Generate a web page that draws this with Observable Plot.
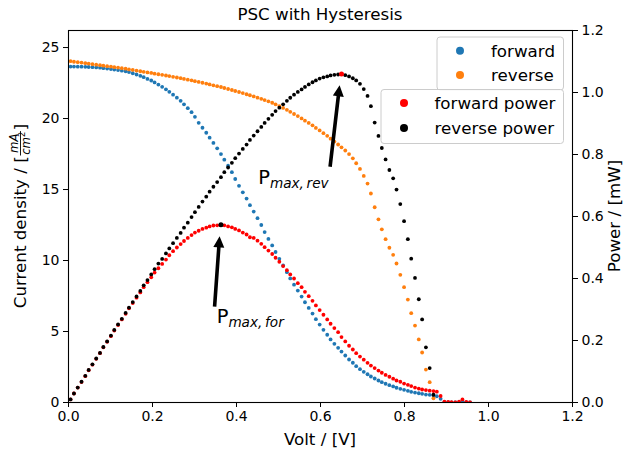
<!DOCTYPE html>
<html><head><meta charset="utf-8">
<script src="https://cdn.jsdelivr.net/npm/d3@7"></script>
<script src="https://cdn.jsdelivr.net/npm/@observablehq/plot@0.6"></script>
<style>
html,body{margin:0;padding:0;background:#fff;}
#chart{width:623px;height:452px;overflow:hidden;}
svg text{font-family:"DejaVu Sans",sans-serif;}
</style></head><body><div id="chart"></div>
<script>
const chartTitle = "PSC with Hysteresis";
const xLabel = "Volt / [V]";
const powerLabel = "Power / [mW]";
const seriesNames = ["forward", "reverse", "forward power", "reverse power"];
const seriesColors = ["#1f77b4", "#ff7f0e", "#ff0000", "#000000"];
const xTicks = [0, 0.2, 0.4, 0.6, 0.8, 1.0, 1.2];
const currentTicks = [0, 5, 10, 15, 20, 25];
const powerTicks = [0, 0.2, 0.4, 0.6, 0.8, 1.0, 1.2];
const currentMax = 26.2;
const powerMax = 1.2;

const voltage = [0.005,0.013,0.022,0.031,0.040,0.048,0.057,0.066,0.075,0.083,
0.092,0.101,0.109,0.118,0.127,0.136,0.144,0.153,0.162,0.171,
0.179,0.188,0.197,0.205,0.214,0.223,0.232,0.240,0.249,0.258,
0.267,0.275,0.284,0.293,0.301,0.310,0.319,0.328,0.336,0.345,
0.354,0.363,0.371,0.380,0.389,0.397,0.406,0.415,0.424,0.432,
0.441,0.450,0.459,0.467,0.476,0.485,0.493,0.502,0.511,0.520,
0.528,0.537,0.546,0.555,0.563,0.572,0.581,0.589,0.598,0.607,
0.616,0.624,0.633,0.642,0.650,0.659,0.668,0.677,0.685,0.694,
0.703,0.712,0.720,0.729,0.738,0.746,0.755,0.764,0.773,0.781,
0.790,0.799,0.808,0.816,0.825,0.834,0.842,0.851,0.860,0.869,
0.877,0.886,0.895,0.904,0.912,0.921,0.930,0.938,0.947,0.956];

const forwardCurrent = [23.66,23.66,23.65,23.65,23.64,23.63,23.62,23.60,23.58,23.55,
23.52,23.49,23.45,23.41,23.37,23.33,23.27,23.19,23.10,23.01,
22.91,22.79,22.68,22.54,22.39,22.23,22.06,21.88,21.68,21.47,
21.25,21.00,20.73,20.45,20.12,19.70,19.35,19.00,18.65,18.28,
17.90,17.50,17.10,16.68,16.22,15.74,15.26,14.80,14.36,13.90,
13.45,12.98,12.50,12.00,11.52,11.06,10.60,10.12,9.65,9.18,
8.74,8.30,7.88,7.46,7.06,6.66,6.26,5.87,5.49,5.12,
4.77,4.44,4.13,3.85,3.59,3.31,3.03,2.80,2.56,2.35,
2.16,1.99,1.83,1.69,1.55,1.43,1.32,1.22,1.13,1.04,
0.96,0.89,0.82,0.75,0.70,0.65,0.61,0.56,0.54,0.49,
0.44,0.26,0.03,0.02,0.01,0.00,0.03,0.09,0.02,0.00];

const reverseCurrent = [24.04,24.00,23.97,23.94,23.90,23.87,23.83,23.79,23.76,23.72,
23.69,23.66,23.62,23.59,23.55,23.51,23.46,23.42,23.38,23.33,
23.29,23.25,23.21,23.16,23.12,23.08,23.03,22.99,22.94,22.89,
22.84,22.79,22.74,22.69,22.63,22.58,22.52,22.46,22.40,22.34,
22.28,22.22,22.15,22.08,22.01,21.94,21.87,21.79,21.71,21.64,
21.56,21.47,21.39,21.30,21.21,21.11,21.00,20.88,20.75,20.61,
20.47,20.32,20.17,20.01,19.85,19.69,19.52,19.34,19.16,18.97,
18.78,18.58,18.38,18.17,17.97,17.75,17.50,17.20,16.85,16.45,
15.96,15.42,14.72,13.75,12.90,12.20,11.50,10.90,10.40,9.79,
8.99,8.12,7.25,6.29,5.42,4.44,3.52,2.32,1.43,0.30];

const forwardPower = [0.010,0.029,0.048,0.066,0.085,0.104,0.122,0.141,0.159,0.178,
0.196,0.214,0.232,0.250,0.268,0.286,0.304,0.321,0.338,0.355,
0.372,0.388,0.404,0.419,0.433,0.447,0.461,0.475,0.488,0.500,
0.511,0.521,0.531,0.540,0.548,0.554,0.560,0.564,0.568,0.571,
0.5715,0.573,0.5715,0.568,0.565,0.560,0.555,0.548,0.542,0.533,
0.531,0.522,0.512,0.501,0.490,0.479,0.467,0.454,0.440,0.427,
0.413,0.400,0.385,0.372,0.357,0.343,0.328,0.313,0.298,0.283,
0.268,0.254,0.240,0.227,0.211,0.197,0.183,0.171,0.159,0.148,
0.138,0.128,0.119,0.111,0.103,0.096,0.089,0.083,0.077,0.071,
0.067,0.061,0.057,0.053,0.048,0.045,0.042,0.040,0.038,0.037,
0.035,0.021,0.003,0.002,0.001,0.000,0.003,0.010,0.002,0.000];

const reversePower = [0.010,0.029,0.048,0.067,0.086,0.105,0.123,0.142,0.160,0.179,
0.197,0.216,0.234,0.252,0.270,0.289,0.306,0.324,0.342,0.360,
0.378,0.395,0.413,0.430,0.448,0.463,0.481,0.497,0.514,0.531,
0.547,0.564,0.580,0.598,0.614,0.631,0.648,0.664,0.680,0.696,
0.711,0.727,0.743,0.758,0.773,0.788,0.803,0.818,0.832,0.847,
0.861,0.875,0.889,0.902,0.915,0.928,0.940,0.951,0.962,0.973,
0.983,0.993,1.002,1.010,1.018,1.026,1.033,1.039,1.045,1.049,
1.052,1.055,1.057,1.058,1.060,1.056,1.052,1.046,1.039,1.028,
1.011,0.989,0.956,0.903,0.860,0.821,0.784,0.750,0.723,0.687,
0.640,0.585,0.527,0.464,0.402,0.333,0.268,0.178,0.111,0.025];

// annotation arrow tails and label anchors (data coords: volt, power)
const annotationNames = ["for", "rev"];
const arrowTailVolt = [0.349, 0.624];
const arrowTailPower = [0.308, 0.759];
const labelVolt = [0.354, 0.453];
const labelPower = [0.254, 0.703];

const k = currentMax / powerMax;
const fwd = forwardCurrent.map((j, i) => ({v: voltage[i], j, p: forwardPower[i] * k}));
const rev = reverseCurrent.map((j, i) => ({v: voltage[i], j, p: reversePower[i] * k}));
const fwdPeak = d3.greatest(fwd, d => d.p);
const revPeak = d3.greatest(rev, d => d.p);
const R = 1.9;

const plot = Plot.plot({
  width: 623, height: 452,
  marginLeft: 68, marginRight: 51, marginTop: 30, marginBottom: 50,
  style: {fontFamily: "'DejaVu Sans', sans-serif", fontSize: "14px", color: "#000", background: "#fff", overflow: "visible"},
  x: {domain: [0, 1.2]},
  y: {domain: [0, currentMax]},
  marks: [
    Plot.dot(fwd, {x: "v", y: "j", r: R, fill: seriesColors[0], clip: true}),
    Plot.dot(rev, {x: "v", y: "j", r: R, fill: seriesColors[1], clip: true}),
    Plot.dot(fwd, {x: "v", y: "p", r: R, fill: seriesColors[2], clip: true}),
    Plot.dot(rev, {x: "v", y: "p", r: R, fill: seriesColors[3], clip: true}),
    Plot.dot([fwdPeak], {x: "v", y: "p", r: 2.5, fill: "#000"}),
    Plot.dot([revPeak], {x: "v", y: "p", r: 2.5, fill: "#ff0000"}),
    Plot.axisX({ticks: xTicks, tickFormat: d => d.toFixed(1), tickSize: 5, tickPadding: 4, label: null}),
    Plot.axisY({ticks: currentTicks, tickSize: 5, tickPadding: 4, label: null}),
    Plot.axisY({anchor: "right", ticks: powerTicks.map(p => p * k), tickFormat: d => (d / k).toFixed(1), tickSize: 5, tickPadding: 4, label: null}),
    Plot.frame({stroke: "#000", strokeWidth: 1.1})
  ]
});
document.getElementById("chart").appendChild(plot);

const sx = plot.scale("x"), sy = plot.scale("y");
const svg = d3.select(plot);
const fl = sx.apply(0), fr = sx.apply(1.2), ft = sy.apply(currentMax), fb = sy.apply(0);
const cxm = (fl + fr) / 2, cym = (ft + fb) / 2;

// title
svg.append("text").attr("x", cxm).attr("y", ft - 10.5).attr("text-anchor", "middle")
  .attr("font-size", 16.7).attr("fill", "#000").text(chartTitle);
// x label
svg.append("text").attr("x", cxm).attr("y", fb + 43).attr("text-anchor", "middle")
  .attr("font-size", 16.7).attr("fill", "#000").text(xLabel);
// right label
svg.append("text").attr("transform", `translate(${fr + 47.5},${cym}) rotate(-90)`)
  .attr("text-anchor", "middle").attr("font-size", 16.7).attr("fill", "#000").text(powerLabel);
// left label with fraction
{
  const g = svg.append("g").attr("transform", `translate(${fl - 42},${cym}) rotate(-90)`).attr("text-anchor", "start");
  const t1 = g.append("text").attr("text-anchor", "start").attr("font-size", 16.7).attr("fill", "#000").text("Current density / [");
  const w1 = t1.node().getComputedTextLength();
  const num = g.append("text").attr("font-size", 11.7).attr("font-style", "italic").attr("text-anchor", "middle").attr("fill", "#000").text("mA");
  const den = g.append("text").attr("font-size", 11.7).attr("font-style", "italic").attr("text-anchor", "middle").attr("fill", "#000");
  den.append("tspan").text("cm");
  den.append("tspan").attr("font-size", 8.2).attr("font-style", "normal").attr("dy", -4.5).text("2");
  const wn = num.node().getComputedTextLength(), wd = den.node().getComputedTextLength();
  const fw = Math.max(wn, wd) + 3;
  const t3 = g.append("text").attr("text-anchor", "start").attr("font-size", 16.7).attr("fill", "#000").text("]");
  const w3 = t3.node().getComputedTextLength();
  const total = w1 + fw + w3;
  const s = -total / 2;
  t1.attr("x", s).attr("y", 0);
  const fc = s + w1 + fw / 2;
  num.attr("x", fc).attr("y", -8.5);
  den.attr("x", fc).attr("y", 3.8);
  g.append("line").attr("x1", s + w1 + 0.8).attr("x2", s + w1 + fw - 0.8).attr("y1", -5.5).attr("y2", -5.5)
    .attr("stroke", "#000").attr("stroke-width", 0.9);
  t3.attr("x", s + w1 + fw).attr("y", 0);
}

// annotations
const peaks = [fwdPeak, revPeak];
annotationNames.forEach((name, i) => {
  const tx = sx.apply(arrowTailVolt[i]), ty = sy.apply(arrowTailPower[i] * k);
  const px = sx.apply(peaks[i].v), py = sy.apply(peaks[i].p);
  let dx = px - tx, dy = py - ty;
  const len = Math.hypot(dx, dy); dx /= len; dy /= len;
  const nx = -dy, ny = dx;
  const tipX = px - dx * 12, tipY = py - dy * 12;
  const hl = 11, hw = 5.5, w = 1.8;
  const bx = tipX - dx * hl, by = tipY - dy * hl;
  const pts = [
    [tx + nx * w, ty + ny * w], [bx + nx * w, by + ny * w], [bx + nx * hw, by + ny * hw],
    [tipX, tipY], [bx - nx * hw, by - ny * hw], [bx - nx * w, by - ny * w], [tx - nx * w, ty - ny * w]
  ];
  svg.append("polygon").attr("points", pts.map(p => p.join(",")).join(" ")).attr("fill", "#000");
  const lx = sx.apply(labelVolt[i]), ly = sy.apply(labelPower[i] * k);
  const t = svg.append("text").attr("x", lx).attr("y", ly).attr("text-anchor", "start").attr("fill", "#000");
  t.append("tspan").attr("font-size", 19.4).text("P");
  t.append("tspan").attr("font-size", 13.6).attr("font-style", "italic").attr("dy", 3.5).text("max,\u2009" + name);
});

// legends
function legend(x, y, w, h, items, rowYs, markerDx, textDx) {
  const g = svg.append("g").attr("text-anchor", "start");
  g.append("rect").attr("x", x).attr("y", y).attr("width", w).attr("height", h).attr("rx", 3)
    .attr("fill", "#fff").attr("fill-opacity", 0.8).attr("stroke", "#cccccc").attr("stroke-width", 1);
  items.forEach((it, i) => {
    g.append("circle").attr("cx", x + markerDx).attr("cy", rowYs[i]).attr("r", 4).attr("fill", it.color);
    g.append("text").attr("x", x + textDx).attr("y", rowYs[i] + 6).attr("text-anchor", "start")
      .attr("font-size", 16.7).attr("fill", "#000").text(it.name);
  });
}
const l1w = 126.5, l1x = fr - 8.5 - l1w, l1y = ft + 7;
legend(l1x, l1y, l1w, 53, [{name: seriesNames[0], color: seriesColors[0]}, {name: seriesNames[1], color: seriesColors[1]}],
  [ft + 20.7, ft + 45], 23, 54);
const l2w = 182.5, l2x = fr - 8.5 - l2w, l2y = ft + 59.5;
legend(l2x, l2y, l2w, 54, [{name: seriesNames[2], color: seriesColors[2]}, {name: seriesNames[3], color: seriesColors[3]}],
  [l2y + 13.4, l2y + 38.4], 23, 53.5);
</script></body></html>
